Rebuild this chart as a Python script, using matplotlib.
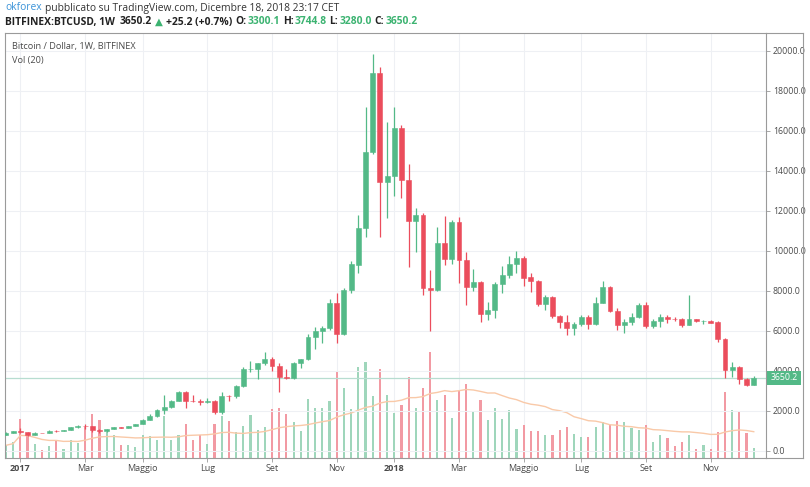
import matplotlib
matplotlib.use('Agg')
import matplotlib.pyplot as plt
import numpy as np
import pandas as pd
from matplotlib.patches import Rectangle

# ---------------- data (weekly candles, BITFINEX BTCUSD) ----------------
week_start = '2016-12-19'
n_weeks = 105
opens = [790, 900, 995, 930, 820, 920, 915, 1015, 1000, 1050,
         1185, 1260, 1240, 1030, 980, 1090, 1180, 1170, 1250, 1350,
         1560, 1770, 2050, 2200, 2520, 2960, 2520, 2480, 2430, 2500,
         1950, 2750, 2730, 3250, 4080, 4100, 4380, 4620, 4230, 3700,
         3660, 4390, 4600, 5680, 5980, 6150, 7380, 5850, 8050, 9300,
         11150, 14950, 18900, 13450, 13750, 16150, 13550, 11500, 11800, 8150,
         8050, 10380, 9600, 11450, 9550, 8200, 8450, 6850, 7030, 8350,
         8800, 9350, 9650, 8700, 8500, 7350, 7700, 6750, 6450, 6150,
         6350, 6700, 6350, 7400, 8200, 7020, 6300, 6450, 6700, 7300,
         6250, 6480, 6700, 6620, 6580, 6320, 6580, 6480, 6500, 6450,
         5600, 4050, 4200, 3620, 3300.1]
highs = [935, 1000, 1150, 935, 930, 925, 1030, 1070, 1060, 1200,
         1290, 1330, 1260, 1120, 1100, 1210, 1220, 1265, 1360, 1590,
         1840, 2100, 2780, 2550, 3000, 2990, 2790, 2600, 2650, 2550,
         2950, 2800, 3300, 4200, 4480, 4400, 4950, 4700, 4380, 4100,
         4470, 4620, 5860, 6190, 6250, 7620, 7900, 8150, 9500, 11800,
         17200, 19850, 19200, 16450, 17200, 16300, 14350, 12150, 11900, 9050,
         11200, 11750, 11550, 11700, 9950, 9100, 8500, 7450, 8450, 9250,
         9750, 9990, 9750, 8900, 8550, 7780, 7750, 6800, 6800, 6450,
         6800, 6800, 7700, 8500, 8250, 7150, 6600, 6900, 7400, 7450,
         6600, 6850, 6800, 6700, 6650, 7780, 6620, 6550, 6550, 6500,
         5650, 4450, 4250, 3650, 3744.8]
lows = [785, 880, 880, 760, 810, 880, 905, 940, 990, 1045,
        1170, 1100, 950, 900, 960, 1080, 1160, 1160, 1240, 1340,
        1540, 1720, 1850, 2150, 2500, 2150, 2450, 2300, 2420, 1850,
        1850, 2480, 2650, 3200, 3950, 3600, 4300, 4000, 2970, 3600,
        3600, 4140, 4560, 5100, 5400, 6050, 5400, 5800, 7900, 8880,
        10700, 14850, 10700, 11650, 12750, 12650, 9200, 9950, 7800, 6000,
        8000, 9300, 9350, 8400, 7300, 8000, 6450, 6550, 6650, 7900,
        8650, 8900, 8250, 7950, 7250, 7050, 6650, 6150, 5800, 5800,
        6250, 6100, 6300, 7400, 6950, 6050, 5880, 6300, 6650, 6150,
        6150, 6200, 6400, 6500, 6200, 6300, 6450, 6350, 6380, 5450,
        3650, 3700, 3350, 3250, 3280.0]
closes = [900, 995, 930, 820, 920, 915, 1015, 1000, 1050, 1185,
          1260, 1240, 1030, 980, 1090, 1180, 1170, 1250, 1350, 1560,
          1770, 2050, 2200, 2520, 2960, 2520, 2480, 2430, 2500, 1950,
          2750, 2730, 3250, 4080, 4100, 4380, 4620, 4230, 3700, 3660,
          4390, 4600, 5680, 5980, 6150, 7380, 5850, 8050, 9350, 11150,
          14950, 18900, 13450, 13750, 16150, 13550, 11500, 11800, 8150, 8050,
          10380, 9600, 11450, 9550, 8200, 8450, 6850, 7030, 8350, 8800,
          9350, 9650, 8650, 8500, 7350, 7700, 6750, 6450, 6150, 6350,
          6700, 6350, 7400, 8200, 7020, 6300, 6450, 6700, 7300, 6250,
          6480, 6700, 6620, 6580, 6320, 6580, 6500, 6500, 6420, 5600,
          4050, 4200, 3620, 3300, 3650.2]
volumes = [12.7, 16, 39, 21.7, 13.7, 8.3, 11.7, 17.7, 8.7, 17.7,
           15, 31, 43.7, 38.3, 26, 23.3, 12.7, 13.3, 11, 22.7,
           21.7, 18.3, 41.7, 18.3, 22.7, 33.7, 17.7, 22.7, 14.3, 33.7,
           42, 37, 26.3, 32.3, 42.7, 28, 31.3, 48.7, 50, 44,
           36.3, 27.3, 58.7, 49.7, 49.7, 57, 86.3, 69.7, 48.7, 91.3,
           96.3, 62, 88.7, 62.6, 45, 53, 81.3, 50.3, 70.3, 105.6,
           58.3, 62.6, 40, 67.3, 74.3, 46.6, 57.6, 37.6, 50, 39,
           47.6, 29.3, 33.3, 26.6, 26.6, 23.3, 22.6, 27.6, 31, 24,
           21, 20.6, 31.3, 36.3, 33, 37.3, 36.3, 29.7, 28, 33,
           16.3, 23, 19.7, 12.3, 16.3, 23, 8.7, 13, 9, 26.3,
           66.3, 48, 45.7, 24.7, 9.7]
price_ticks = list(range(0, 20001, 2000))
month_labels = {3: 'Mar', 5: 'Maggio', 7: 'Lug', 9: 'Set', 11: 'Nov'}
last_price = 3650.2

# ---------------- styling ----------------
GREEN = '#53b987'
RED = '#eb4d5c'
VGREEN = '#9fd6bb'
VRED = '#f29aa3'
TXT = '#4a4a4a'
FONT = ['Open Sans', 'DejaVu Sans']

W, H = 810, 487
fig = plt.figure(figsize=(W / 100, H / 100), dpi=100)
fig.patch.set_facecolor('white')

L, R, T, B = 5, 766, 33, 458
rect = [L / W, 1 - B / H, (R - L) / W, (B - T) / H]
axv = fig.add_axes(rect)
ax = fig.add_axes(rect, sharex=axv)
ax.patch.set_alpha(0)

dates = pd.date_range(week_start, periods=n_weeks, freq='W-MON')
x = np.arange(n_weeks)
o = np.array(opens, float); h = np.array(highs, float)
l = np.array(lows, float); c = np.array(closes, float)
v = np.array(volumes, float)
up = c >= o
cols = np.where(up, GREEN, RED)
vcols = np.where(up, VGREEN, VRED)

# volume + MA(20)
axv.bar(x, v, width=0.3, color=vcols, zorder=2)
ma = pd.Series(v).rolling(20, min_periods=1).mean()
axv.plot(x, ma, color='#f9c9a8', lw=1.0, zorder=3)
axv.set_ylim(0, B - T)
axv.set_yticks([])
for s in axv.spines.values():
    s.set_visible(False)

# grid (on volume axes so it sits behind)
tick_pos, tick_lab, tick_bold = [], [], []
for i in range(1, n_weeks):
    if dates[i].month != dates[i - 1].month:
        m = dates[i].month
        if m == 1:
            tick_pos.append(i); tick_lab.append(str(dates[i].year)); tick_bold.append(True)
        elif m in month_labels:
            tick_pos.append(i); tick_lab.append(month_labels[m]); tick_bold.append(False)
for tp in tick_pos:
    axv.axvline(tp, color='#eef0f4', lw=0.8, zorder=0)

# candles
ax.vlines(x, l, h, colors=cols, lw=0.9, zorder=3)
ax.bar(x, np.abs(c - o), bottom=np.minimum(o, c), width=0.68, color=cols,
       edgecolor=cols, linewidth=0.4, zorder=4)

ax.axhline(last_price, color='#b7ddd0', lw=0.9, zorder=2)
ax.set_ylim((451 - B) * 50, (451 - T) * 50)
ax.set_xlim(-1 / 7.19, (R - 6) / 7.19)
ax.set_yticks(price_ticks)
ax.set_yticklabels([f'{p:.1f}' for p in price_ticks])
ax.yaxis.tick_right()
ax.grid(axis='y', color='#eef0f4', lw=0.8, zorder=0)
ax.set_axisbelow(True)
ax.tick_params(axis='y', length=3, width=0.6, color='#9a9a9a', labelsize=6.3,
               labelcolor=TXT, pad=2)
ax.set_xticks(tick_pos)
ax.set_xticklabels(tick_lab)
for lab, b in zip(ax.get_xticklabels(), tick_bold):
    lab.set_fontweight('bold' if b else 'normal')
    lab.set_family(FONT)
for lab in ax.get_yticklabels():
    lab.set_family(FONT)
ax.tick_params(axis='x', length=3, width=0.6, color='#9a9a9a', labelsize=6.5,
               labelcolor=TXT, pad=1.5)
axv.tick_params(axis='x', length=0, labelbottom=False)
for s in ax.spines.values():
    s.set_color('#9a9a9a'); s.set_linewidth(0.8)

# right price-scale frame
fig.add_artist(plt.Line2D([803 / W, 803 / W], [1 - 458 / H, 1 - 33 / H],
                          color='#9a9a9a', lw=0.8))
fig.add_artist(plt.Line2D([766 / W, 803 / W], [1 - 33 / H, 1 - 33 / H],
                          color='#9a9a9a', lw=0.8))
fig.add_artist(plt.Line2D([766 / W, 803 / W], [1 - 458 / H, 1 - 458 / H],
                          color='#9a9a9a', lw=0.8))

# last price label
fig.add_artist(Rectangle((767 / W, 1 - 385 / H), 34 / W, 14 / H,
                         facecolor=GREEN, edgecolor='none', zorder=10))
fig.text(784 / W, 1 - 378 / H, f'{last_price:.1f}', color='white', fontsize=6.3,
         ha='center', va='center', family=FONT, zorder=11)

# inner legend
fig.text(12 / W, 1 - 46 / H, 'Bitcoin / Dollar, 1W, BITFINEX', color=TXT,
         fontsize=6.6, family=FONT, va='center')
fig.text(12 / W, 1 - 60 / H, 'Vol (20)', color=TXT, fontsize=6.6, family=FONT,
         va='center')

# header, drawn piece by piece
renderer = fig.canvas.get_renderer()


def seq(x_px, y_px, pieces, size, weight):
    xx = x_px
    for s, col, gap in pieces:
        t = fig.text(xx / W, 1 - y_px / H, s, color=col, fontsize=size,
                     fontweight=weight, family=FONT, va='center', ha='left')
        bb = t.get_window_extent(renderer=renderer)
        xx += bb.width + gap


seq(5, 8, [('okforex', '#3b93d8', 3),
           ('pubblicato su TradingView.com, Dicembre 18, 2018 23:17 CET', '#333333', 0)],
    7.4, 'normal')
HG = '#3cb371'
seq(5, 22, [('BITFINEX:BTCUSD, 1W', '#222222', 5),
            (f'{closes[-1]:.1f}', '#222222', 3),
            ('\u25b2', HG, 3),
            ('+25.2 (+0.7%)', '#222222', 3),
            ('O:', '#222222', 1), (f'{opens[-1]:.1f}', HG, 3),
            ('H:', '#222222', 1), (f'{highs[-1]:.1f}', HG, 3),
            ('L:', '#222222', 1), (f'{lows[-1]:.1f}', HG, 3),
            ('C:', '#222222', 1), (f'{closes[-1]:.1f}', HG, 0)],
    7.4, 'bold')

fig.savefig('out.png', dpi=100, facecolor='white')
